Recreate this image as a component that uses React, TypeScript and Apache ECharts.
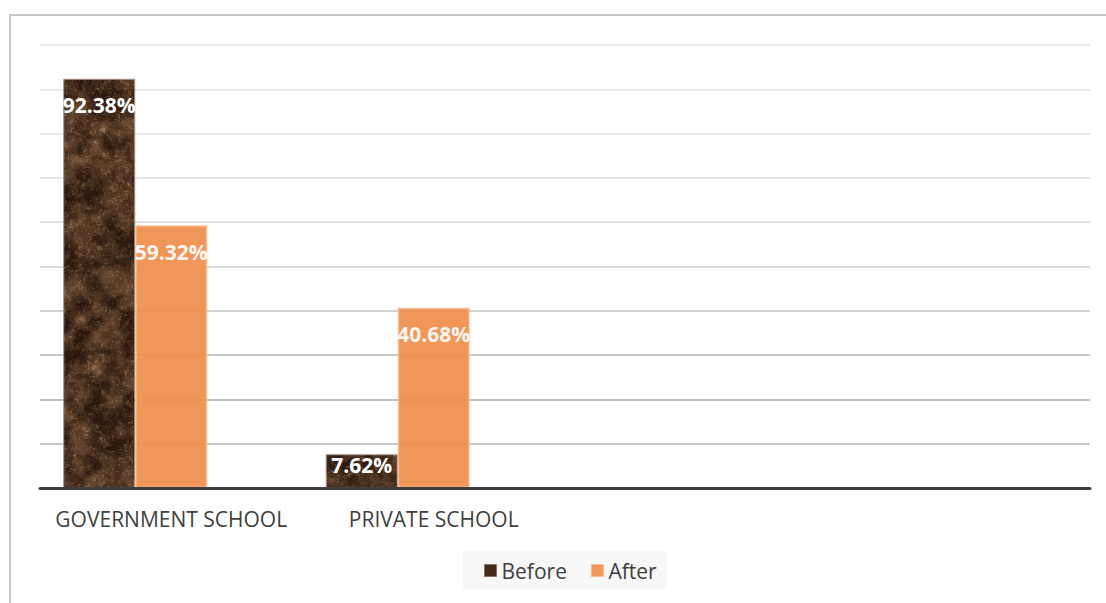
import React, { useEffect, useRef } from "react";
import * as echarts from "echarts";

const categories = ["GOVERNMENT SCHOOL", "PRIVATE SCHOOL", "", ""];
const beforeValues = [92.38, 7.62, null, null];
const afterValues = [59.32, 40.68, null, null];
const spareValues = [null, null, null, null];
const gridColors = [
  "#b0b0b0", "#b4b4b4", "#a8a8a8", "#b8b8b8", "#c4c4c4",
  "#cfcfcf", "#d6d6d6", "#dcdcdc", "#e0e0e0", "#e2e2e2", "#e2e2e2",
];

// Deterministic hash noise used for the brown marble fill.
function hash(x: number, y: number, s: number) {
  let h = x * 374761393 + y * 668265263 + s * 982451653;
  h = (h ^ (h >>> 13)) * 1274126177;
  h = h ^ (h >>> 16);
  return ((h >>> 0) % 10000) / 10000;
}
function smooth(t: number) {
  return t * t * (3 - 2 * t);
}
function valueNoise(x: number, y: number, s: number) {
  const xi = Math.floor(x), yi = Math.floor(y);
  const xf = smooth(x - xi), yf = smooth(y - yi);
  const a = hash(xi, yi, s), b = hash(xi + 1, yi, s);
  const c = hash(xi, yi + 1, s), d = hash(xi + 1, yi + 1, s);
  return a + (b - a) * xf + (c - a) * yf + (a - b - c + d) * xf * yf;
}
function makeMarble(): HTMLCanvasElement {
  const w = 320, h = 520;
  const cv = document.createElement("canvas");
  cv.width = w;
  cv.height = h;
  const ctx = cv.getContext("2d")!;
  const img = ctx.createImageData(w, h);
  for (let y = 0; y < h; y++) {
    for (let x = 0; x < w; x++) {
      let n = 0, amp = 1, freq = 1 / 16, tot = 0;
      for (let o = 0; o < 5; o++) {
        n += amp * valueNoise(x * freq, y * freq, o + 1);
        tot += amp;
        amp *= 0.6;
        freq *= 2.0;
      }
      n /= tot;
      const w2 = valueNoise(x / 9, y / 9, 11);
      const vein = Math.pow(1 - Math.abs(Math.sin(x * 0.04 + y * 0.025 + n * 14 + w2 * 4)), 10);
      const speck = valueNoise(x / 2.2, y / 2.2, 17) > 0.82 ? 0.25 : 0;
      const t = Math.min(1, Math.max(0, (n - 0.32) * 1.3 + vein * 0.4 + speck));
      const i = (y * w + x) * 4;
      img.data[i] = 44 + t * 112;
      img.data[i + 1] = 26 + t * 88;
      img.data[i + 2] = 15 + t * 64;
      img.data[i + 3] = 255;
    }
  }
  ctx.putImageData(img, 0, 0);
  return cv;
}

const labelBase = {
  show: true,
  position: "insideTop" as const,
  distance: 16,
  color: "#ffffff",
  fontFamily: "Open Sans",
  fontWeight: "bold" as const,
  fontSize: 21,
  formatter: (p: any) => (p.value == null ? "" : p.value.toFixed(2) + "%"),
};

export default function App() {
  const ref = useRef<HTMLDivElement>(null);
  useEffect(() => {
    document.body.style.margin = "0";
    const chart = echarts.init(ref.current!, undefined, { renderer: "svg" });
    const marble = makeMarble();
    chart.setOption({
      animation: false,
      backgroundColor: "#ffffff",
      textStyle: { fontFamily: "Open Sans" },
      graphic: [
        {
          type: "rect",
          shape: { x: 10, y: 15, width: 1120, height: 620 },
          style: { fill: "none", stroke: "#c8c8c8", lineWidth: 2 },
          silent: true,
        },
      ],
      grid: { left: 40, right: 16, top: 45, bottom: 115, containLabel: false },
      xAxis: {
        type: "category",
        data: categories,
        axisLine: { show: true, lineStyle: { color: "#404040", width: 3 } },
        axisTick: { show: false },
        axisLabel: {
          color: "#404040",
          fontSize: 21,
          fontFamily: "Open Sans",
          margin: 20,
          interval: 0,
        },
        splitLine: { show: false },
        z: 10,
      },
      yAxis: {
        type: "value",
        min: 0,
        max: 100,
        interval: 10,
        axisLine: { show: false },
        axisTick: { show: false },
        axisLabel: { show: false },
        splitLine: { show: true, lineStyle: { color: gridColors, width: 1.5 } },
      },
      legend: {
        data: [
          { name: "Before", itemStyle: { color: "#45291a", borderColor: "#8a7060", borderWidth: 1 } },
          { name: "After", itemStyle: { color: "#ef8e4c", borderColor: "#f5bb94", borderWidth: 1 } },
        ],
        top: 551,
        left: 463,
        icon: "rect",
        itemWidth: 12,
        itemHeight: 12,
        itemGap: 24,
        backgroundColor: "#f7f7f7",
        padding: [9, 10, 9, 21],
        textStyle: { color: "#404040", fontSize: 21, fontFamily: "Open Sans" },
      },
      series: [
        {
          name: "Before",
          type: "bar",
          data: beforeValues.map((v, i) =>
            i === 1 ? { value: v, label: { distance: 0 } } : v
          ),
          barGap: "0%",
          barCategoryGap: "17.7%",
          itemStyle: {
            color: { image: marble, repeat: "repeat" } as any,
            borderColor: "#a49486",
            borderWidth: 1,
          },
          label: labelBase,
        },
        {
          name: "After",
          type: "bar",
          data: afterValues,
          itemStyle: {
            color: "#ef8e4c",
            opacity: 0.93,
            borderColor: "#f5bb94",
            borderWidth: 1.5,
          },
          label: labelBase,
        },
        {
          name: "Spare",
          type: "bar",
          data: spareValues,
        },
      ],
    });
    return () => chart.dispose();
  }, []);
  return <div ref={ref} style={{ width: 1106, height: 603 }} />;
}
